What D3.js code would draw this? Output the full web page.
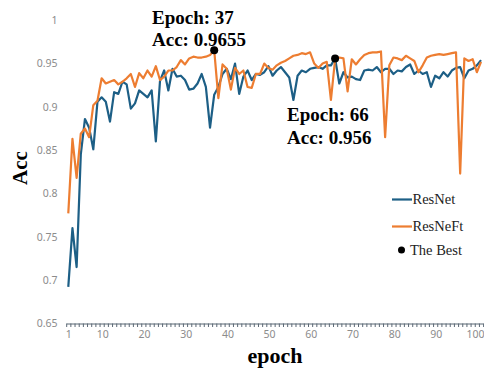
<!DOCTYPE html>
<html>
<head>
<meta charset="utf-8">
<script src="https://cdn.jsdelivr.net/npm/d3@7"></script>
<style>
	body { margin: 0; background: #fff; }
	svg { display: block; }
</style>
</head>
<body>
<div id="chart"></div>
<script>

var resnet = [
	0.692, 0.760, 0.715, 0.845, 0.886, 0.876, 0.851, 0.906, 0.911, 0.906,
	0.883, 0.917, 0.915, 0.929, 0.926, 0.898, 0.904, 0.919, 0.915, 0.911,
	0.919, 0.860, 0.930, 0.942, 0.919, 0.944, 0.935, 0.936, 0.931, 0.920,
	0.921, 0.927, 0.938, 0.923, 0.876, 0.914, 0.923, 0.938, 0.944, 0.932,
	0.950, 0.915, 0.935, 0.942, 0.931, 0.938, 0.937, 0.940, 0.947, 0.936,
	0.942, 0.946, 0.940, 0.934, 0.908, 0.936, 0.942, 0.940, 0.944, 0.945,
	0.946, 0.944, 0.948, 0.948, 0.956, 0.927, 0.940, 0.934, 0.935, 0.932,
	0.931, 0.942, 0.943, 0.942, 0.946, 0.940, 0.944, 0.944, 0.938, 0.942,
	0.941, 0.946, 0.949, 0.938, 0.942, 0.938, 0.940, 0.923, 0.936, 0.933,
	0.940, 0.935, 0.942, 0.945, 0.946, 0.933, 0.942, 0.944, 0.948, 0.954
];

var resneft = [
	0.777, 0.863, 0.818, 0.869, 0.875, 0.865, 0.902, 0.907, 0.933, 0.927,
	0.929, 0.931, 0.926, 0.929, 0.933, 0.938, 0.923, 0.939, 0.933, 0.942,
	0.935, 0.947, 0.931, 0.935, 0.942, 0.942, 0.946, 0.954, 0.949, 0.956,
	0.958, 0.957, 0.957, 0.958, 0.960, 0.9655, 0.910, 0.949, 0.944, 0.920,
	0.945, 0.938, 0.942, 0.923, 0.922, 0.938, 0.938, 0.950, 0.945, 0.943,
	0.948, 0.951, 0.953, 0.956, 0.959, 0.960, 0.962, 0.961, 0.963, 0.950,
	0.945, 0.950, 0.952, 0.908, 0.955, 0.957, 0.956, 0.918, 0.955, 0.949,
	0.955, 0.960, 0.962, 0.963, 0.963, 0.964, 0.865, 0.948, 0.957, 0.956,
	0.954, 0.959, 0.956, 0.953, 0.940, 0.948, 0.957, 0.959, 0.960, 0.961,
	0.960, 0.961, 0.962, 0.963, 0.823, 0.956, 0.953, 0.955, 0.940, 0.952
];

var xTicks = [1, 10, 20, 30, 40, 50, 60, 70, 80, 90, 100];
var yTicks = [0.65, 0.7, 0.75, 0.8, 0.85, 0.9, 0.95, 1];
var seriesNames = ["ResNet", "ResNeFt"];
var seriesColors = ["#1d5f86", "#ed7d31"];
var bestNotes = [["Epoch: 37", "Acc: 0.9655"], ["Epoch: 66", "Acc: 0.956"]];

var w = 484;
var h = 369;
var serif = "'Liberation Serif', 'Times New Roman', serif";
var sans = "'Noto Sans', 'Liberation Sans', sans-serif";

var svg = d3.select("#chart")
	.append("svg")
	.attr("width", w)
	.attr("height", h);

var x = d3.scaleLinear().domain([0.5, 100.5]).range([66.2, 483.1]);
var y = d3.scaleLinear().domain([0.65, 1]).range([323.3, 20.3]);

// y tick labels only, no axis line
var yAxis = svg.append("g")
	.attr("transform", "translate(57.5,0)")
	.call(d3.axisLeft(y).tickValues(yTicks).tickSize(0).tickPadding(0)
		.tickFormat(function(d){ return String(d); }));
yAxis.select(".domain").remove();
yAxis.selectAll("text")
	.attr("font-family", sans)
	.attr("font-size", 10.5)
	.attr("fill", "#8c8c8c");

// x axis: a small tick between every epoch
var xAxis = svg.append("g")
	.attr("transform", "translate(0,323.5)")
	.call(d3.axisBottom(x).tickValues(d3.range(0.5, 101, 1)).tickSize(3.5).tickSizeOuter(0)
		.tickFormat(""));
xAxis.select(".domain").attr("stroke", "#5b6875");
xAxis.selectAll(".tick line").attr("stroke", "#5b6875");

var xLabels = svg.append("g")
	.attr("transform", "translate(0,323.5)")
	.call(d3.axisBottom(x).tickValues(xTicks).tickSize(0).tickPadding(7));
xLabels.select(".domain").remove();
xLabels.selectAll("text")
	.attr("font-family", sans)
	.attr("font-size", 10.5)
	.attr("fill", "#8c8c8c")
	.attr("dx", function(d){ return d < 10 ? 0 : -3.5; });
// last label would run off the page
xLabels.selectAll("text")
	.filter(function(d){ return d === 100; })
	.attr("text-anchor", "end")
	.attr("dx", 3);

// lines
var line = d3.line()
	.x(function(d, i){ return x(i + 1); })
	.y(function(d){ return y(d); });

[resnet, resneft].forEach(function(s, k){
	svg.append("path")
		.datum(s)
		.attr("d", line)
		.attr("fill", "none")
		.attr("stroke", seriesColors[k])
		.attr("stroke-width", 2.2)
		.attr("stroke-linejoin", "round");
});

// best points
var bestIdx = [d3.maxIndex(resneft), d3.maxIndex(resnet)];
var bestVals = [resneft[bestIdx[0]], resnet[bestIdx[1]]];

svg.selectAll("circle.best")
	.data(bestIdx)
	.enter()
	.append("circle")
	.attr("class", "best")
	.attr("cx", function(d){ return x(d + 1); })
	.attr("cy", function(d, i){ return y(bestVals[i]); })
	.attr("r", 4)
	.attr("fill", "#000");

var notePos = [[152, 23.5], [287, 121]];
bestNotes.forEach(function(n, i){
	var t = svg.append("text")
		.attr("font-family", serif)
		.attr("font-weight", "bold")
		.attr("font-size", 19)
		.attr("fill", "#000");
	t.append("tspan").attr("x", notePos[i][0]).attr("y", notePos[i][1]).text(n[0]);
	t.append("tspan").attr("x", notePos[i][0]).attr("y", notePos[i][1] + 22.5).text(n[1]);
});

// axis titles
svg.append("text")
	.attr("x", 275)
	.attr("y", 363)
	.attr("text-anchor", "middle")
	.attr("font-family", serif)
	.attr("font-weight", "bold")
	.attr("font-size", 22)
	.text("epoch");

svg.append("text")
	.attr("transform", "translate(26.5,168) rotate(-90)")
	.attr("text-anchor", "middle")
	.attr("font-family", serif)
	.attr("font-weight", "bold")
	.attr("font-size", 21)
	.text("Acc");

// legend
var legend = svg.append("g");
seriesNames.forEach(function(name, i){
	var ly = 199.5 + i * 27;
	legend.append("line")
		.attr("x1", 392).attr("x2", 412)
		.attr("y1", ly).attr("y2", ly)
		.attr("stroke", seriesColors[i])
		.attr("stroke-width", 2.2);
	legend.append("text")
		.attr("x", 412.5)
		.attr("y", ly + 4.8)
		.attr("font-family", serif)
		.attr("font-size", 14.5)
		.attr("fill", "#222")
		.text(name);
});
legend.append("circle")
	.attr("cx", 401.5).attr("cy", 250)
	.attr("r", 3.5)
	.attr("fill", "#000");
legend.append("text")
	.attr("x", 410)
	.attr("y", 254.5)
	.attr("font-family", serif)
	.attr("font-size", 14.5)
	.attr("fill", "#222")
	.text("The Best");

</script>
</body>
</html>
